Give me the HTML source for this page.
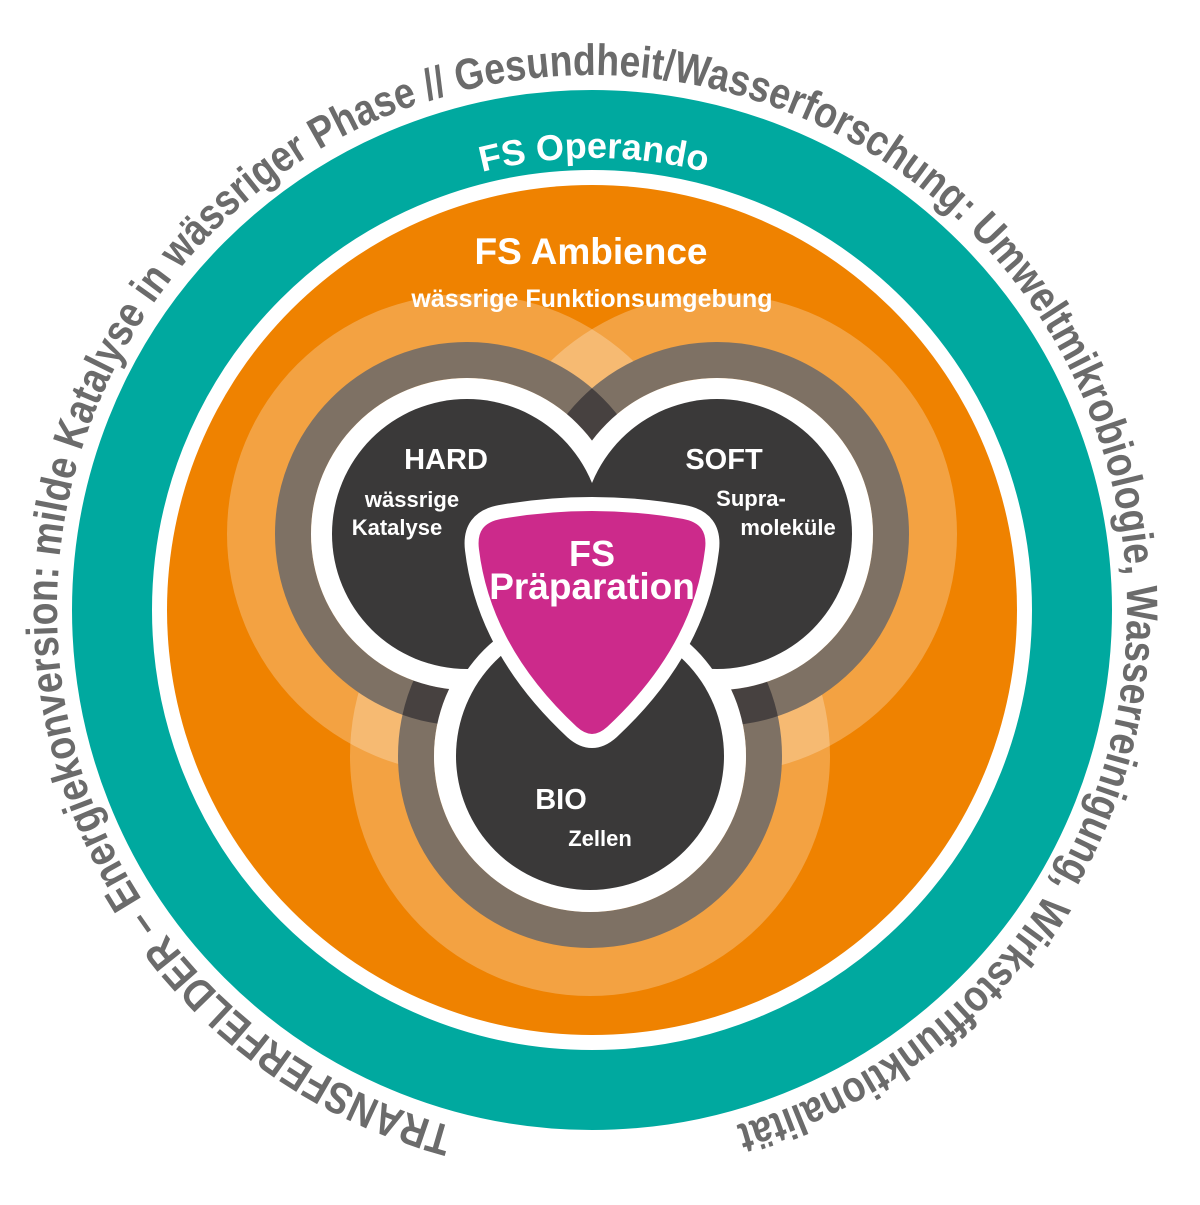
<!DOCTYPE html>
<html><head><meta charset="utf-8"><style>
html,body{margin:0;padding:0;background:#fff;}
svg{display:block;}
text{font-family:"Liberation Sans",sans-serif;font-weight:bold;}
</style></head><body>
<svg width="1200" height="1205" viewBox="0 0 1200 1205" xmlns="http://www.w3.org/2000/svg">
<defs>
  <path id="outer" d="M453.5,1126.8 A535,535 0 1 1 730.5,1126.8"/>
  <path id="oper" d="M142,610 A452,452 0 0 1 1046,610"/>
  <clipPath id="rH"><path fill-rule="evenodd" clip-rule="evenodd" d="M275,534a192,192 0 1 0 384,0a192,192 0 1 0 -384,0Z M311,534a156,156 0 1 0 312,0a156,156 0 1 0 -312,0Z"/></clipPath>
  <clipPath id="rS"><path fill-rule="evenodd" clip-rule="evenodd" d="M525,534a192,192 0 1 0 384,0a192,192 0 1 0 -384,0Z M561,534a156,156 0 1 0 312,0a156,156 0 1 0 -312,0Z"/></clipPath>
  <clipPath id="hH"><circle cx="467" cy="534" r="240"/></clipPath>
  <clipPath id="hS"><circle cx="717" cy="534" r="240"/></clipPath>
</defs>

<circle cx="592" cy="610" r="480" fill="none" stroke="#00a99f" stroke-width="80"/>
<circle cx="592" cy="610" r="425" fill="#ef8200"/>

<g fill="#ffffff" fill-opacity="0.26">
  <circle cx="467" cy="534" r="240"/>
  <circle cx="717" cy="534" r="240"/>
  <circle cx="590" cy="756" r="240"/>
</g>

<g fill="none" stroke="#7e7164" stroke-width="36">
  <circle cx="467" cy="534" r="174"/>
  <circle cx="717" cy="534" r="174"/>
  <circle cx="590" cy="756" r="174"/>
</g>
<g fill="none" stroke="#474140" stroke-width="36">
  <circle cx="717" cy="534" r="174" clip-path="url(#rH)"/>
  <circle cx="590" cy="756" r="174" clip-path="url(#rH)"/>
  <circle cx="590" cy="756" r="174" clip-path="url(#rS)"/>
</g>

<g fill="#ffffff">
  <circle cx="467" cy="534" r="156"/>
  <circle cx="717" cy="534" r="156"/>
  <circle cx="590" cy="756" r="156"/>
</g>
<g fill="#3a3939">
  <circle cx="467" cy="534" r="135"/>
  <circle cx="717" cy="534" r="135"/>
</g>
<circle cx="590" cy="756" r="150" fill="#ffffff" clip-path="url(#hH)"/>
<circle cx="590" cy="756" r="150" fill="#ffffff" clip-path="url(#hS)"/>
<circle cx="590" cy="756" r="134" fill="#3a3939"/>

<path d="M500,512 Q592,496 684,512 Q716,518 712,550 Q700,650 612,732 Q592,750 572,732 Q484,650 472,550 Q468,518 500,512 Z" fill="#cc2a8b" stroke="#ffffff" stroke-width="14" stroke-linejoin="round"/>

<text font-size="44" fill="#6b6b6b"><textPath href="#outer" textLength="3075" lengthAdjust="spacingAndGlyphs">TRANSFERFELDER – Energiekonversion: milde Katalyse in wässriger Phase // Gesundheit/Wasserforschung: Umweltmikrobiologie, Wasserreinigung, Wirkstofffunktionalität</textPath></text>

<text font-size="36" fill="#ffffff" text-anchor="middle"><textPath href="#oper" startOffset="50%">FS Operando</textPath></text>

<g fill="#ffffff" text-anchor="middle">
  <text x="591" y="264" font-size="37">FS Ambience</text>
  <text x="592" y="307" font-size="25">wässrige Funktionsumgebung</text>
  <text x="446" y="469" font-size="29">HARD</text>
  <text x="412" y="507" font-size="22">wässrige</text>
  <text x="397" y="535" font-size="22">Katalyse</text>
  <text x="724" y="469" font-size="29">SOFT</text>
  <text x="751" y="506" font-size="22">Supra-</text>
  <text x="788" y="535" font-size="22">moleküle</text>
  <text x="561" y="809" font-size="29">BIO</text>
  <text x="600" y="846" font-size="22">Zellen</text>
  <text x="592" y="566" font-size="36">FS</text>
  <text x="592" y="599" font-size="37">Präparation</text>
</g>
</svg>
</body></html>
